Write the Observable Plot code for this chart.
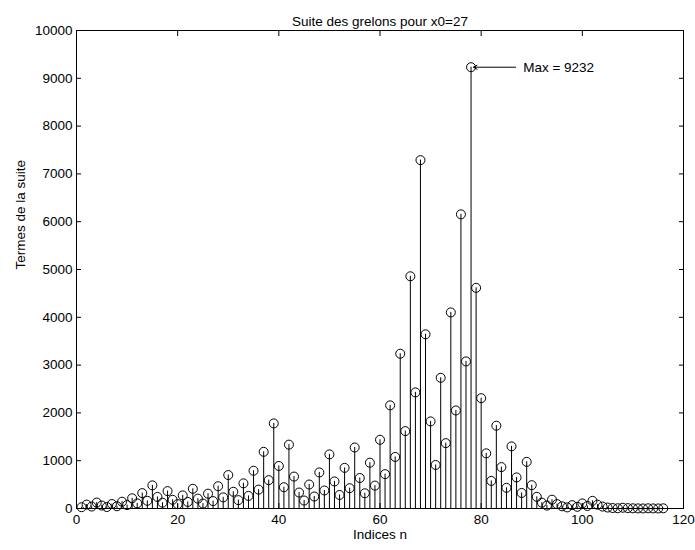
<!DOCTYPE html>
<html><head><meta charset="utf-8">
<script src="https://cdn.jsdelivr.net/npm/d3@7"></script>
<script src="https://cdn.jsdelivr.net/npm/@observablehq/plot@0.6"></script>
<style>body{margin:0;background:#fff}</style>
</head><body><div id="chart"></div>
<script>
// Terms of the hailstone (Collatz) sequence for x0 = 27, as plotted (indices 1..116)
const values = [
  27, 82, 41, 124, 62, 31, 94, 47, 142, 71,
  214, 107, 322, 161, 484, 242, 121, 364, 182, 91,
  274, 137, 412, 206, 103, 310, 155, 466, 233, 700,
  350, 175, 526, 263, 790, 395, 1186, 593, 1780, 890,
  445, 1336, 668, 334, 167, 502, 251, 754, 377, 1132,
  566, 283, 850, 425, 1276, 638, 319, 958, 479, 1438,
  719, 2158, 1079, 3238, 1619, 4858, 2429, 7288, 3644, 1822,
  911, 2734, 1367, 4102, 2051, 6154, 3077, 9232, 4616, 2308,
  1154, 577, 1732, 866, 433, 1300, 650, 325, 976, 488,
  244, 122, 61, 184, 92, 46, 23, 70, 35, 106,
  53, 160, 80, 40, 20, 10, 5, 16, 8, 4,
  2, 1, 4, 2, 1, 4
];
const xTicks = [0, 20, 40, 60, 80, 100, 120];
const yTicks = [0, 1000, 2000, 3000, 4000, 5000, 6000, 7000, 8000, 9000, 10000];
const titleText = "Suite des grelons pour x0=27";
const xLabel = "Indices n";
const yLabel = "Termes de la suite";
const maxLabel = "Max = 9232";
const maxIndex = 78;
const maxValue = 9232;
const arrowStart = 86.8;
const labelStart = 88.3;

const data = values.map((v, i) => ({n: i + 1, v}));
const font = "'Liberation Sans', Arial, Helvetica, sans-serif";

const chart = Plot.plot({
  width: 695, height: 550,
  marginLeft: 76, marginRight: 12, marginTop: 30, marginBottom: 42,
  style: {fontSize: "13px", fontFamily: font, background: "white", color: "black"},
  x: {domain: [0, 120], label: null},
  y: {domain: [0, 10000], label: null},
  marks: [
    Plot.ruleX(data, {x: "n", y1: 0, y2: "v", stroke: "black", strokeWidth: 1}),
    Plot.ruleY([0], {stroke: "black"}),
    Plot.dot(data, {x: "n", y: "v", r: 4.5, stroke: "black", fill: "none", strokeWidth: 1}),
    Plot.arrow([{x1: arrowStart, x2: maxIndex + 0.5, y: maxValue}], {x1: "x1", x2: "x2", y1: "y", y2: "y", stroke: "black", headLength: 6, strokeWidth: 1}),
    Plot.text([maxLabel], {x: labelStart, y: maxValue, text: d => d, textAnchor: "start", fontSize: 13.5, fill: "black"}),
    Plot.frame({stroke: "black"}),
    Plot.axisX({ticks: xTicks, tickSize: -5, tickPadding: 11, tickFormat: d => String(d), label: null, fontSize: 13.5}),
    Plot.axisX({anchor: "top", ticks: xTicks, tickSize: -5, tickFormat: () => "", label: null}),
    Plot.axisY({ticks: yTicks, tickSize: -5, tickPadding: 9, tickFormat: d => String(d), label: null, fontSize: 13.5}),
    Plot.axisY({anchor: "right", ticks: yTicks, tickSize: -5, tickFormat: () => "", label: null}),
    Plot.text([titleText], {frameAnchor: "top", dy: -14.5, text: d => d, fontSize: 13.5, fill: "black"}),
    Plot.text([xLabel], {frameAnchor: "bottom", dy: 30, text: d => d, fontSize: 13.5, fill: "black"}),
    Plot.text([yLabel], {frameAnchor: "left", dx: -55.5, rotate: -90, text: d => d, fontSize: 13.5, fill: "black"})
  ]
});
document.getElementById("chart").append(chart);
</script>
</body></html>
